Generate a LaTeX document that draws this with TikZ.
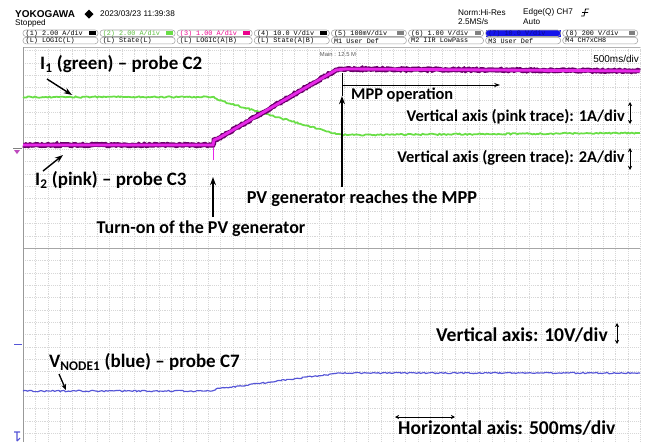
\documentclass[tikz,border=0pt]{standalone}
\usepackage{fontspec}
\setmainfont{Carlito}
\newfontfamily\scopefont{Liberation Sans}
\newfontfamily\scopemono{Liberation Mono}
\usepackage{xcolor}
\usetikzlibrary{arrows.meta,decorations.pathmorphing}

\definecolor{tracegreen}{RGB}{105,222,70}
\definecolor{tracepink}{RGB}{232,40,232}
\definecolor{tracepinkdark}{RGB}{105,0,105}
\definecolor{traceblue}{RGB}{85,85,215}
\definecolor{scopeblue}{RGB}{20,20,235}
\definecolor{gridgray}{RGB}{215,215,215}

\tikzset{
  note/.style={font=\fontsize{14}{16}\selectfont\bfseries, inner sep=0pt},
  bignote/.style={note, font=\fontsize{16.2}{18}\selectfont\bfseries},
  hdr/.style={font=\scopefont\fontsize{7}{8}\selectfont, inner sep=0pt, anchor=west},
  chbox/.style={draw=gray!70, rounded corners=2.5pt, line width=0.5pt},
  chtext/.style={font=\scopemono\fontsize{5.8}{6}\selectfont, inner sep=0pt, anchor=west},
  pointer/.style={-{Stealth[length=7pt,width=5pt]}, line width=1.2pt},
  scalearrow/.style={{Stealth[length=3.5pt,width=3.5pt]}-{Stealth[length=3.5pt,width=3.5pt]}, line width=0.8pt},
  noisy/.style={decorate, decoration={random steps, segment length=1.5pt, amplitude=0.6pt}},
}

\begin{document}
\begin{tikzpicture}[x=0.03cm, y=-0.03cm]
  \useasboundingbox (0,0) rectangle (646,444);
  \fill[white] (0,0) rectangle (646,444);

  % header
  \node[hdr, font=\scopefont\bfseries\fontsize{8.5}{9}\selectfont] (brand) at (15,14) {YOKOGAWA};
  \fill (89,9.5) -- (93.5,14) -- (89,18.5) -- (84.5,14) -- cycle;
  \node[hdr] (stamp) at (100,14) {2023/03/23 11:39:38};
  \node[hdr] (state) at (15,23.5) {Stopped};
  \node[hdr] (acqmode) at (458,12.5) {Norm:Hi-Res};
  \node[hdr] (rate) at (458,21.5) {2.5MS/s};
  \node[hdr] (trig) at (523,12.5) {Edge(Q) CH7};
  \draw[line width=0.7pt] (581,16) -- (584,16) -- (585.5,9) -- (589,9) (582,12.5) -- (588,12.5);
  \node[hdr] (trigmode) at (523,21.5) {Auto};

  % channel boxes
  \fill[scopeblue] ({23+77.1*6},30) rectangle ++(75,6.5);
  \foreach \i/\topline/\botline/\col in {1/{(1) 2.00 A/div}/{(L) LOGIC(L)}/black,
      2/{(2) 2.00 A/div}/{(L) State(L)}/tracegreen!85!black,
      3/{(3) 1.00 A/div}/{(L) LOGIC(A|B)}/magenta,
      4/{(4) 10.0 V/div}/{(L) State(A|B)}/black,
      5/{(5) 100mV/div}/{M1 User Def}/black,
      6/{(6) 1.00 V/div}/{M2 IIR LowPass}/black,
      7/{(7) 10.0 V/div}/{M3 User Def}/scopeblue!60!black,
      8/{(8) 200 V/div}/{M4 CH7xCH8}/black}
  {
    \draw[chbox] ({23+77.1*(\i-1)},30) rectangle ++(75,6.5);
    \draw[chbox] ({23+77.1*(\i-1)},37.3) rectangle ++(75,6.5);
    \node[chtext, text=\col] (ch\i) at ({25.5+77.1*(\i-1)},33.3) {\topline};
    \node[chtext] (fn\i) at ({25.5+77.1*(\i-1)},40.6) {\botline};
  }
  \foreach \i/\col in {1/black,2/tracegreen,3/magenta,4/black,5/gray,6/gray,8/gray}
    \fill[\col] ({89+77.1*(\i-1)},31.3) rectangle ++(6.5,4);

  % screen grid
  \foreach \x in {0,...,50}
    \draw[gridgray, line width=0.25pt, dash pattern=on 0.8pt off 0.8pt] ({23+12.34*\x},47) -- ({23+12.34*\x},442);
  \foreach \y in {0,...,16}
    \draw[gridgray, line width=0.25pt, dash pattern=on 0.8pt off 0.8pt] (23,{248-12.34*\y}) -- (640,{248-12.34*\y});
  \foreach \y in {1,...,15}
    \draw[gridgray, line width=0.25pt, dash pattern=on 0.8pt off 0.8pt] (23,{248+12.34*\y}) -- (640,{248+12.34*\y});
  \draw[gray!60, line width=0.6pt] (23,47) -- (640,47);
  \draw[gray!70, line width=0.6pt] (23,248) -- (640,248);
  \draw[gray!80, line width=0.8pt] (23,47) -- (23,442);
  \node[font=\scopefont\fontsize{5}{6}\selectfont, text=gray!70!black, inner sep=0pt] (zoominfo) at (338,54.5) {Main : 12.5 M};
  \node[font=\scopefont\fontsize{8.5}{9}\selectfont, inner sep=0pt, anchor=east] (tdiv) at (639,58.5) {500ms/div};

  % level markers
  \draw[gray, line width=0.7pt] (13,148) -- (22,148);
  \fill[tracepink!60!gray] (14,150) -- (20,150) -- (17,154) -- cycle;
  \draw[traceblue, line width=0.8pt] (14,344) -- (22,344);
  \draw[traceblue, line width=0.9pt] (14,432) -- (20,432) (17,432) -- (17,441) (17,441) -- (20,438);

  % traces
  \draw[tracegreen, line width=1.5pt, noisy] (23,97) -- (214,97) -- (218,100) -- (336,134) -- (344,135) -- (640,133);
  \draw[tracepink, line width=0.6pt] (213,144) -- (213,160);
  \draw[tracepinkdark, line width=4.2pt, noisy] (23,145) -- (213,145) -- (214,140) -- (219,138) -- (336,70) -- (346,69) -- (640,71);
  \draw[tracepink, line width=2.4pt] (23,145) -- (213,145) -- (214,140) -- (219,138) -- (336,70) -- (346,69) -- (640,71);
  \draw[traceblue, line width=1pt, noisy] (23,391) -- (212,391) -- (216,389) -- (340,373) -- (640,373);

  % labels and pointers
  \node[bignote, anchor=west] (lblIone) at (40,64) {I\textsubscript{1} (green) -- probe C2};
  \coordinate (tailIone) at (47,79);
  \coordinate (tipIone) at (72,95);
  \draw[pointer] (tailIone) -- (tipIone);

  \node[bignote, anchor=west] (lblItwo) at (35,180) {I\textsubscript{2} (pink) -- probe C3};
  \coordinate (tailItwo) at (43,171);
  \coordinate (tipItwo) at (63,155);
  \draw[pointer] (tailItwo) -- (tipItwo);

  \node[note, font=\fontsize{15.4}{17}\selectfont\bfseries] (lblturnon) at (201,229) {Turn-on of the PV generator};
  \coordinate (tipturnon) at (213,177);
  \draw[pointer] (213,217) -- (tipturnon);

  \node[note, font=\fontsize{15.6}{17}\selectfont\bfseries] (lblmpp) at (362,199) {PV generator reaches the MPP};
  \coordinate (mpptop) at (342,73);
  \coordinate (tipmpp) at (342,96);
  \coordinate (mppend) at (500,85);
  \draw[pointer] (342,187) -- (tipmpp);
  \draw[line width=0.7pt] (mpptop) -- (tipmpp);
  \draw[-{Stealth[length=5pt,width=3.5pt]}, line width=0.7pt] (342,85) -- (mppend);
  \node[note, anchor=west] (lblmppop) at (351,95) {MPP operation};

  \node[note, anchor=east] (scalepink) at (625,117) {Vertical axis (pink trace): 1A/div};
  \draw[scalearrow] (630,102) -- (630,124);
  \node[note, anchor=east] (scalegreen) at (625,158) {Vertical axis (green trace): 2A/div};
  \draw[scalearrow] (630,148) -- (630,170);

  \node[bignote, anchor=west] (lblvnode) at (49,362) {V\textsubscript{NODE1} (blue) -- probe C7};
  \coordinate (tailvnode) at (59,374);
  \coordinate (tipvnode) at (66,390);
  \draw[-{Stealth[length=5pt,width=4pt]}, line width=1.1pt] (tailvnode) -- (tipvnode);

  \node[note, font=\fontsize{16.7}{18}\selectfont\bfseries, anchor=east] (scalevolt) at (608,335) {Vertical axis: 10V/div};
  \draw[scalearrow] (617,323) -- (617,344);
  \node[note, font=\fontsize{16.7}{18}\selectfont\bfseries, anchor=west] (scaletime) at (398,428) {Horizontal axis: 500ms/div};
  \draw[scalearrow] (395,417) -- (455,417);
\end{tikzpicture}
\end{document}
